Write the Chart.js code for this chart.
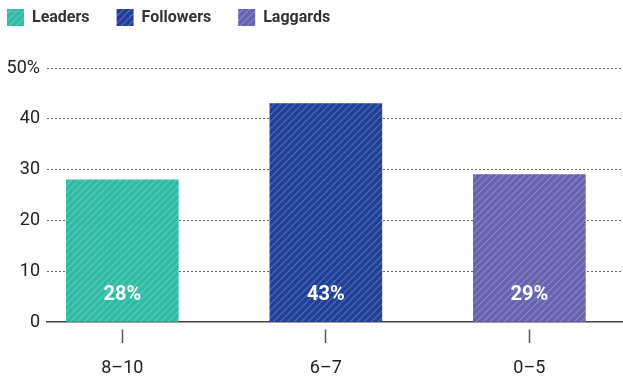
<!DOCTYPE html>
<html>
<head>
<meta charset="utf-8">
<script src="https://cdn.jsdelivr.net/npm/chart.js@4/dist/chart.umd.min.js"></script>
<style>
  html, body { margin: 0; padding: 0; background: #fff; }
  #wrap { width: 623px; height: 376px; position: relative; }
</style>
</head>
<body>
<div id="wrap"><canvas id="c"></canvas></div>
<script>
// ---- data ----
const categories = ['8–10', '6–7', '0–5'];
const seriesNames = ['Leaders', 'Followers', 'Laggards'];
const values = [28, 43, 29];
const valueLabels = ['28%', '43%', '29%'];
const yTicks = [0, 10, 20, 30, 40, 50];
const baseColors = ['#2ebaa4', '#1f3f99', '#6662b2'];

function makePattern(color) {
  const s = 7;
  const cv = document.createElement('canvas');
  cv.width = s; cv.height = s;
  const g = cv.getContext('2d');
  g.fillStyle = color;
  g.fillRect(0, 0, s, s);
  g.strokeStyle = 'rgba(255,255,255,0.25)';
  g.lineWidth = 1.2;
  g.beginPath();
  for (const k of [-s, 0, s]) {
    g.moveTo(k, s);
    g.lineTo(k + s, 0);
  }
  g.stroke();
  return g.createPattern(cv, 'repeat');
}

const FONT = 'Roboto, "Liberation Sans", sans-serif';

const datasets = seriesNames.map((name, i) => ({
  label: name,
  data: [{ x: i, y: values[i] }],
  backgroundColor: makePattern(baseColors[i]),
  borderWidth: 0,
  barThickness: 112,
  grouped: false
}));

const LEG_PAD = 27;

const legendShift = {
  id: 'legendShift',
  afterLayout(chart) {
    const lg = chart.legend;
    if (!lg) return;
    const dx = 7 - LEG_PAD - lg.left;
    lg.left += dx; lg.right += dx;
    const dy = 9 - LEG_PAD - lg.top;
    lg.top += dy; lg.bottom += dy;
  }
};

const valueLabelPlugin = {
  id: 'valueLabels',
  afterDatasetsDraw(chart) {
    const ctx = chart.ctx;
    const yScale = chart.scales.y;
    ctx.save();
    ctx.fillStyle = '#ffffff';
    ctx.font = 'bold 20px ' + FONT;
    ctx.textAlign = 'center';
    ctx.textBaseline = 'middle';
    chart.data.datasets.forEach((ds, di) => {
      const meta = chart.getDatasetMeta(di);
      meta.data.forEach((el) => {
        ctx.fillText(valueLabels[di], el.x, yScale.getPixelForValue(0) - 27);
      });
    });
    ctx.restore();
  }
};

new Chart(document.getElementById('c'), {
  type: 'bar',
  data: { datasets },
  plugins: [legendShift, valueLabelPlugin],
  options: {
    responsive: true,
    maintainAspectRatio: false,
    animation: false,
    layout: { padding: { left: 0, right: 0, top: 14, bottom: 2 } },
    plugins: {
      tooltip: { enabled: false },
      legend: {
        display: true,
        position: 'top',
        align: 'start',
        labels: {
          boxWidth: 17,
          boxHeight: 17,
          padding: LEG_PAD,
          color: '#333333',
          font: { family: FONT, size: 16, weight: 'bold' }
        }
      }
    },
    scales: {
      x: {
        type: 'linear',
        offset: false,
        min: -0.37,
        max: 2.46,
        afterBuildTicks(scale) {
          scale.ticks = categories.map((c, i) => ({ value: i }));
        },
        afterFit(scale) { scale.height = 52; },
        ticks: {
          callback: (v) => categories[v],
          color: '#222222',
          font: { family: FONT, size: 18 },
          padding: 15,
          autoSkip: false,
          maxRotation: 0
        },
        grid: {
          display: true,
          offset: false,
          drawOnChartArea: false,
          drawTicks: true,
          tickLength: 21,
          tickColor: '#555555',
          tickWidth: 1.5,
          tickBorderDash: [0, 7, 14, 60]
        },
        border: { display: true, color: '#444444', width: 1.5 }
      },
      y: {
        min: 0,
        max: 50,
        afterBuildTicks(scale) {
          scale.ticks = yTicks.map(v => ({ value: v }));
        },
        afterFit(scale) { scale.width = 47; },
        ticks: {
          callback: (v) => v === 50 ? v + '%' : String(v),
          color: '#222222',
          font: { family: FONT, size: 18 },
          padding: 7
        },
        grid: {
          display: true,
          drawTicks: false,
          color: (c) => c.tick && c.tick.value === 0 ? 'rgba(0,0,0,0)' : '#666666',
          lineWidth: 1
        },
        border: { display: false, dash: [2, 2] }
      }
    }
  }
});
</script>
</body>
</html>
